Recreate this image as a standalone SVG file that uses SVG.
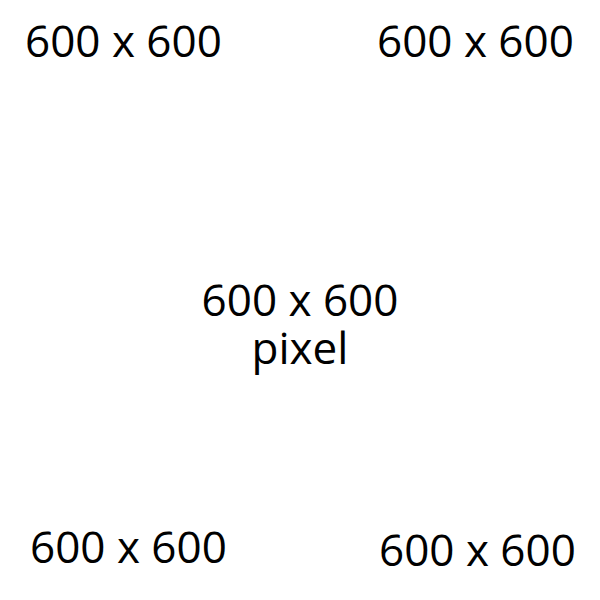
<svg xmlns="http://www.w3.org/2000/svg" width="600" height="600" viewBox="0 0 600 600">
<style>
text{font-family:"Open Sans","Noto Sans",sans-serif;font-size:44px;fill:#000}
</style>
<rect width="600" height="600" fill="#fff"/>
<g id="top-left"><text x="25" y="57">600 x 600</text></g>
<g id="top-right"><text x="377" y="57">600 x 600</text></g>
<g id="center"><text text-anchor="middle"><tspan x="300" y="316">600 x 600</tspan><tspan x="300" y="364">pixel</tspan></text></g>
<g id="bottom-left"><text x="30" y="563">600 x 600</text></g>
<g id="bottom-right"><text x="379" y="566">600 x 600</text></g>
</svg>
